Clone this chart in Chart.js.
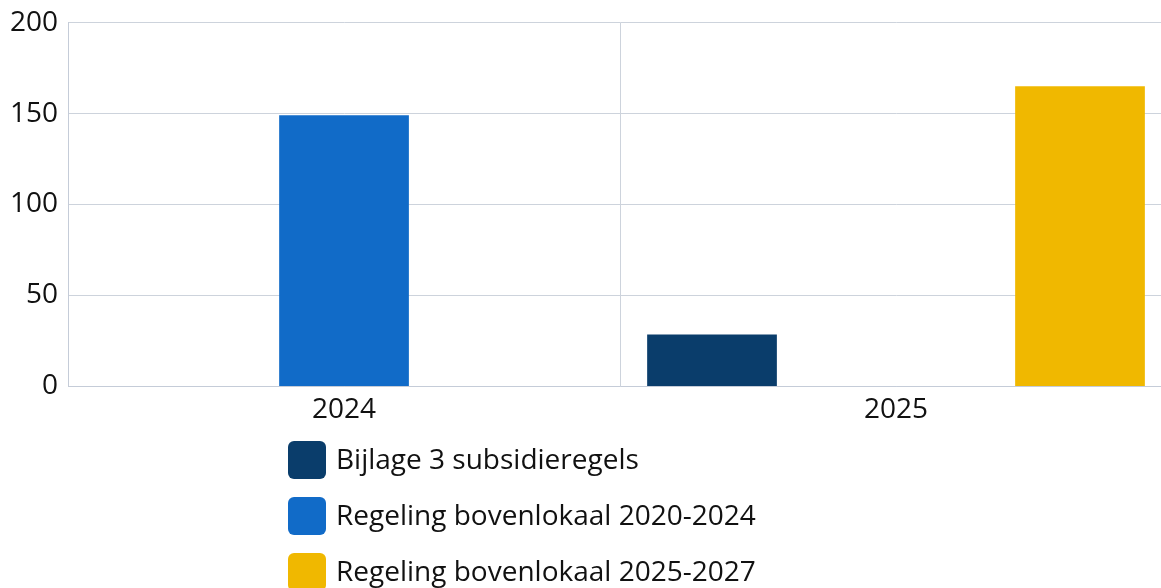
<!DOCTYPE html>
<html>
<head>
<meta charset="utf-8">
<script src="https://cdn.jsdelivr.net/npm/chart.js@4"></script>
<style>
  html, body { margin: 0; padding: 0; background: #fff; overflow: hidden; }
  #wrap { position: relative; width: 1172px; height: 588px; }
</style>
</head>
<body>
<div id="wrap"><canvas id="chart"></canvas></div>
<script>
// chart data
const years = ['2024', '2025']
const seriesNames = ['Bijlage 3 subsidieregels', 'Regeling bovenlokaal 2020-2024', 'Regeling bovenlokaal 2025-2027']
const bijlage3 = [0, 28.5]
const regeling2020 = [149, 0]
const regeling2025 = [0, 165]
const yTicks = [0, 50, 100, 150, 200]

const colors = ['#0a3d6b', '#116bc8', '#f0b800']
const fontFamily = '"Segoe UI", "Open Sans", "Noto Sans", sans-serif'
const fontSize = 28

// legend drawn as a vertical list under the axis
const listLegend = {
    id: 'listLegend',
    afterDraw(chart, args, opts) {
        const ctx = chart.ctx
        ctx.save()
        ctx.font = fontSize + 'px ' + fontFamily
        ctx.textBaseline = 'middle'
        chart.data.datasets.forEach((ds, i) => {
            const y = opts.top + i * opts.rowHeight
            ctx.fillStyle = ds.backgroundColor
            ctx.beginPath()
            ctx.roundRect(opts.left, y, opts.box, opts.box, 6)
            ctx.fill()
            ctx.fillStyle = '#111'
            ctx.fillText(ds.label, opts.left + opts.box + 10, y + opts.box / 2 + 1)
        })
        ctx.restore()
    }
}

const datasets = [bijlage3, regeling2020, regeling2025].map((vals, i) => ({
    label: seriesNames[i],
    data: vals,
    backgroundColor: colors[i],
    borderWidth: 0,
    barPercentage: 0.705,
    categoryPercentage: 1
}))

new Chart(document.getElementById('chart'), {
    type: 'bar',
    data: {labels: years, datasets},
    plugins: [listLegend],
    options: {
        responsive: true,
        maintainAspectRatio: false,
        animation: false,
        layout: {padding: {top: 2, left: 0, right: 0, bottom: 154}},
        plugins: {
            legend: {display: false},
            tooltip: {enabled: false},
            listLegend: {left: 288, top: 441, rowHeight: 56, box: 38}
        },
        scales: {
            x: {
                grid: {color: '#cdd3dc', drawTicks: false, offset: true},
                border: {color: '#c5ccd8'},
                ticks: {color: '#111', font: {size: fontSize, family: fontFamily}, padding: 7}
            },
            y: {
                min: 0,
                max: 200,
                afterBuildTicks: axis => { axis.ticks = yTicks.map(v => ({value: v})) },
                grid: {color: '#cdd3dc', drawTicks: false},
                border: {color: '#c5ccd8'},
                ticks: {color: '#111', font: {size: fontSize, family: fontFamily, lineHeight: 0.9}, padding: 10}
            }
        }
    }
})
</script>
</body>
</html>
